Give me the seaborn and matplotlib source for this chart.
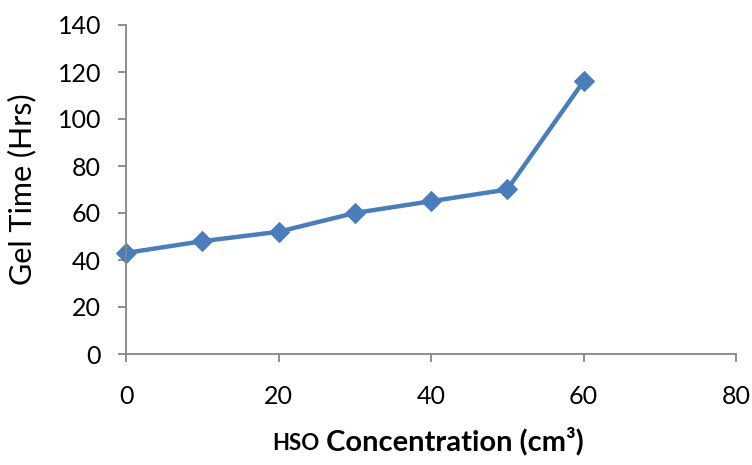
import matplotlib
matplotlib.use("Agg")
import matplotlib.pyplot as plt
import seaborn as sns
import pandas as pd

hso = [0, 10, 20, 30, 40, 50, 60]
gel_time = [43, 48, 52, 60, 65, 70, 116]
x_ticks = [0, 20, 40, 60, 80]
y_ticks = [0, 20, 40, 60, 80, 100, 120, 140]

sns.set_theme(style="white")
plt.rcParams['font.family'] = ['Lato', 'DejaVu Sans']

df = pd.DataFrame({"HSO": hso, "Gel": gel_time})

W, H = 752, 465
fig = plt.figure(figsize=(W/100, H/100), dpi=100)
ax = fig.add_axes([126/W, 1-354/H, (736-126)/W, (354-25)/H])

sns.lineplot(data=df, x="HSO", y="Gel", ax=ax, color="#4A7EBB", linewidth=3.2,
             marker="D", markersize=10, markeredgecolor="#4A7EBB", clip_on=False)

ax.set_xlim(0, 80)
ax.set_ylim(0, 140)
ax.set_xticks(x_ticks)
ax.set_yticks(y_ticks)
for s in ["top", "right"]:
    ax.spines[s].set_visible(False)
for s in ["left", "bottom"]:
    ax.spines[s].set_color("#868686")
    ax.spines[s].set_linewidth(1.3)
ax.tick_params(axis="x", which="both", bottom=True, length=6, width=1.3, color="#868686",
               direction="out", pad=16, labelsize=18, labelcolor="black")
ax.tick_params(axis="y", which="both", left=True, length=6, width=1.3, color="#868686",
               direction="out", pad=12, labelsize=18, labelcolor="black")

ax.set_ylabel("Gel Time (Hrs)", fontsize=22, color="black")
ax.yaxis.label.set_va("center")
ax.yaxis.set_label_coords(-(126-22)/(736-126), 0.5)
ax.set_xlabel("")
ax.grid(False)

# x label: "HSO" in a smaller size, then the rest
fig.canvas.draw()
r = fig.canvas.get_renderer()
t1 = fig.text(0, 0, "HSO", fontsize=16, fontweight="bold", color="black",
              ha="left", va="baseline")
t2 = fig.text(0, 0, " Concentration (cm³)", fontsize=21, fontweight="bold", color="black",
              ha="left", va="baseline")
w1 = t1.get_window_extent(r).width
w2 = t2.get_window_extent(r).width
total = w1 + w2
cx = 428
base_y = H - 450
x0 = cx - total/2
t1.set_position((x0/W, base_y/H))
t2.set_position(((x0 + w1)/W, base_y/H))

fig.savefig("out.png", dpi=100)
